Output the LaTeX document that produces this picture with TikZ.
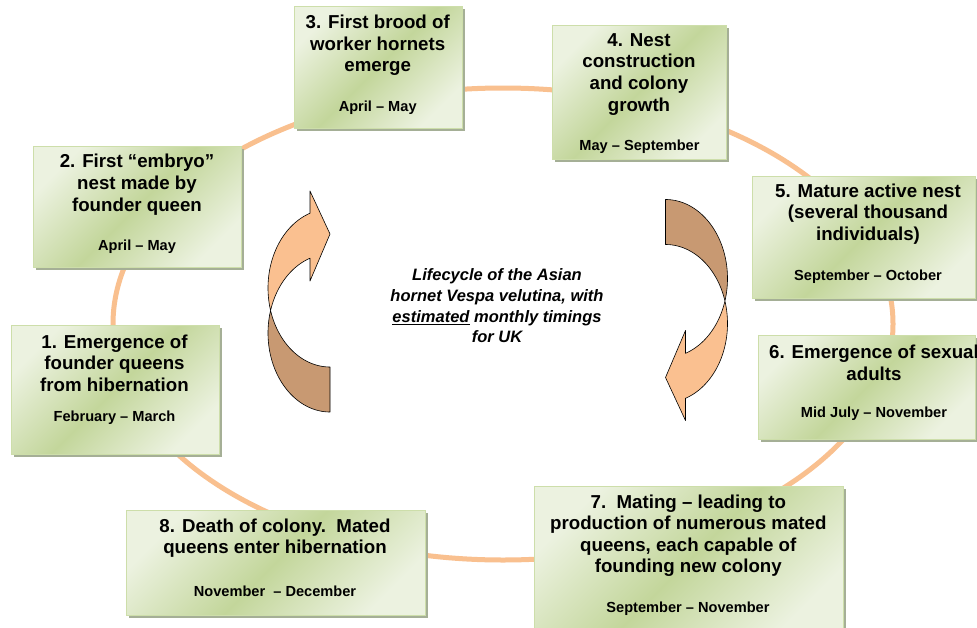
\documentclass[tikz,border=0pt]{standalone}
\usepackage{fontspec}
\setmainfont{Liberation Sans}
\usetikzlibrary{shadows}
\definecolor{ringc}{RGB}{249,192,143}
\definecolor{arrlight}{RGB}{250,192,144}
\definecolor{arrdark}{RGB}{200,153,114}
\definecolor{boxlight}{RGB}{236,242,224}
\definecolor{boxdark}{RGB}{195,214,155}
\definecolor{boxedge}{RGB}{205,222,170}
\definecolor{shadowc}{RGB}{165,175,150}
\tikzset{
  stagebox/.style={rectangle, inner sep=0pt, draw=boxedge, line width=1pt,
    top color=boxlight, bottom color=boxlight, middle color=boxdark, shading angle=45,
    drop shadow={shadow xshift=2.5pt, shadow yshift=-2.5pt, fill=shadowc, opacity=1}},
  titletext/.style={inner sep=0pt, align=center, font=\fontsize{18.7}{21.6}\selectfont\bfseries},
  datetext/.style={inner sep=0pt, align=center, font=\fontsize{14.6}{17}\selectfont\bfseries},
  centertext/.style={inner sep=0pt, align=center, font=\fontsize{16.5}{20.7}\selectfont\bfseries\itshape},
  ringline/.style={draw=ringc, line width=5pt},
  arrowpart/.style={draw=black, line width=0.6pt, line join=round},
}
\newcommand{\hornetarrow}{%
  \filldraw[arrowpart, fill=arrlight]
    plot[domain=108.82:196.55, samples=60, variable=\t] ({330+62*cos(\t)},{288-79*sin(\t)})
    -- plot[domain=163.45:108.82, samples=60, variable=\t] ({330+62*cos(\t)},{333-79*sin(\t)})
    -- (310,281) -- (330,234) -- (310,191) -- cycle;
  \filldraw[arrowpart, fill=arrdark]
    plot[domain=163.45:270, samples=60, variable=\t] ({330+62*cos(\t)},{333-79*sin(\t)})
    -- (330,367)
    -- plot[domain=270:196.55, samples=60, variable=\t] ({330+62*cos(\t)},{288-79*sin(\t)})
    -- cycle;
}
\begin{document}
\begin{tikzpicture}[x=1pt, y=-1pt]
\useasboundingbox (0,0) rectangle (977,627);
\clip (0,0) rectangle (977,627);
\fill[white] (0,0) rectangle (977,627);

% ring
\draw[ringline] (503,324) ellipse [x radius=390pt, y radius=236pt];

% curved arrows
\begin{scope}
  \hornetarrow
\end{scope}
\begin{scope}[shift={(995.5,611.5)}, rotate=180]
  \hornetarrow
\end{scope}

% boxes
\node[stagebox, minimum width=208pt, minimum height=129pt] (b1) at (115,389.5) {};
\node[stagebox, minimum width=208pt, minimum height=121pt] (b2) at (137,206.5) {};
\node[stagebox, minimum width=168pt, minimum height=122pt] (b3) at (378,67) {};
\node[stagebox, minimum width=174pt, minimum height=134pt] (b4) at (639,92) {};
\node[stagebox, minimum width=223pt, minimum height=122pt] (b5) at (863.5,237) {};
\node[stagebox, minimum width=217pt, minimum height=104pt] (b6) at (866.5,387) {};
\node[stagebox, minimum width=309pt, minimum height=149pt] (b7) at (688.5,560.5) {};
\node[stagebox, minimum width=299pt, minimum height=105pt] (b8) at (275.5,562.5) {};

% texts
\node[titletext] (t1) at (114.5,363) {1. Emergence of\\founder queens\\from hibernation};
\node[datetext] (d1) at (114.5,418) {February -- March};

\node[titletext] (t2) at (137,184.7) {2. First “embryo”\\nest made by\\founder queen};
\node[datetext] (d2) at (137,247) {April -- May};

\node[titletext] (t3) at (377.7,45.3) {3. First brood of\\worker hornets\\emerge};
\node[datetext] (d3) at (377.7,108) {April -- May};

\node[titletext] (t4) at (639,74.2) {4. Nest\\construction\\and colony\\growth};
\node[datetext] (d4) at (639.5,147) {May -- September};

\node[titletext] (t5) at (868,214) {5. Mature active nest\\(several thousand\\individuals)};
\node[datetext] (d5) at (868,277) {September -- October};

\node[titletext] (t6) at (874,363) {6. Emergence of sexual\\adults};
\node[datetext] (d6) at (874,414) {Mid July -- November};

\node[titletext] (t7) at (688.3,535.7) {7.~~Mating -- leading to\\production of numerous mated\\queens, each capable of\\founding new colony};
\node[datetext] (d7) at (688,609) {September -- November};

\node[titletext] (t8) at (275,538) {8. Death of colony.~~Mated\\queens enter hibernation};
\node[datetext] (d8) at (275,591) {November~~-- December};

\node[centertext] (ct) at (497,306) {Lifecycle of the Asian\\hornet Vespa velutina, with\\\underline{estimated} monthly timings\\for UK};
\end{tikzpicture}
\end{document}
